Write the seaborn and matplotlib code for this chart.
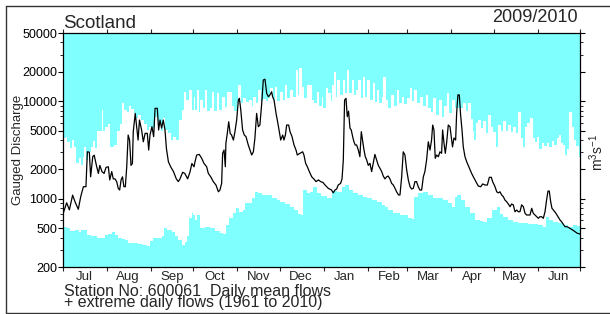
import numpy as np
import pandas as pd
import matplotlib
matplotlib.use("Agg")
import matplotlib.pyplot as plt
import matplotlib.dates as mdates
from matplotlib.ticker import LogLocator, NullFormatter
from matplotlib.lines import Line2D
import seaborn as sns

# ---------------- data (days since 1 Jul 2009, flows in m3/s) ----------------
start_date = "2009-07-01"
end_date = "2010-07-01"

mean_day = [0, 2.6, 4.5, 6.8, 8.5, 10.8, 12.5, 14.4, 16.2, 17.2, 18.6, 19.5, 21, 22, 23.8, 25, 26, 27.5, 29,
            30.4, 32, 33, 34.4, 35.5, 36.7, 37.9, 39, 40, 41, 42, 43, 44, 45, 46, 47, 48, 49, 49.6, 51, 52, 53,
            54, 55.5, 56.7, 58, 59.5, 60.5, 61.4, 62.8, 64, 65, 66.6, 67.5, 68.5, 69.6, 70.8, 72, 73, 74.4, 76,
            78, 80, 81.4, 82.6, 84.5, 86, 88, 89.6, 91, 92.5, 93.2, 94.4, 96.2, 97.9, 99.5, 101.4, 102.6, 104.3,
            106.1, 108, 109.7, 110.8, 112, 112.7, 113.7, 114.6, 115, 116, 117, 118, 119, 120.3, 121.4, 122.6,
            123.8, 124.5, 125.4, 126.8, 128, 129.2, 130.8, 132, 133.2, 134.4, 135.5, 136.7, 137.9, 139, 140.3,
            141.4, 142.6, 143.8, 145, 146.1, 147.3, 148, 149, 150.4, 151.3, 152.3, 153.7, 155.1, 156, 157,
            157.9, 159.3, 160.3, 161.7, 163.1, 164.5, 165.4, 167.3, 169.2, 170.1, 171.3, 172.5, 173.9, 175.6,
            177.2, 178.6, 180.3, 181.9, 183.5, 185, 187.3, 189.6, 190.8, 192, 193.2, 194.3, 196, 197, 197.9,
            198.8, 199.8, 200.7, 201.6, 202.6, 203.5, 204.5, 205.4, 206.3, 207.3, 208.5, 209.6, 210.6, 211.5,
            212.5, 213.4, 214.4, 215.5, 216.7, 217.9, 219, 220.2, 221.4, 222.6, 223.8, 225, 226.1, 227.3, 228.5,
            229.6, 230.8, 232, 233.2, 234.4, 235.5, 236.9, 237.9, 239.1, 240.2, 241.4, 242.6, 243.8, 245, 246.1,
            247.3, 248.5, 249.6, 250.8, 252, 253.2, 254.4, 255.5, 256.7, 257.9, 259.1, 260.2, 261, 261.9, 262.8,
            263.8, 265, 266.1, 267.3, 268, 269, 269.9, 270.8, 272, 273.2, 274.4, 275, 276, 277.2, 277.9, 278.8,
            279.8, 280.7, 281.7, 282.6, 283.8, 285, 286.1, 287.3, 288.5, 289.7, 290.9, 292, 293.2, 294.9, 296.3,
            297.9, 299.6, 301, 302.4, 303.3, 305, 306.2, 307.3, 308.5, 309.7, 310.9, 312, 313.2, 314.4, 315.6,
            316.7, 317.9, 319.1, 320.3, 321.4, 322.6, 323.8, 325, 326.2, 327.3, 328.5, 329.7, 330.9, 332, 333.2,
            334.4, 335.6, 336.7, 337.9, 339.1, 340.3, 341.4, 342.4, 343.3, 344.3, 345.2, 346.6, 348, 349.7,
            350.9, 352, 353.2, 354.4, 355.6, 356.7, 357.9, 359.8, 361.5, 363.1, 365]
mean_flow = [700, 910, 770, 1090, 930, 780, 1050, 1330, 1330, 3030, 3000, 1680, 2700, 2800, 2130, 1820, 2200, 1900,
             1820, 2100, 2130, 1560, 1900, 1600, 1600, 1500, 1280, 1230, 1560, 1680, 1330, 1330, 2130, 4500, 4000,
             2200, 2300, 4870, 7500, 5480, 4000, 6410, 5070, 3840, 4690, 4690, 3160, 4500, 5480, 4330, 8450, 8450,
             5070, 6410, 5300, 6410, 5070, 3290, 2400, 2130, 1900, 1600, 1500, 1600, 1870, 1820, 1600, 1870, 2300,
             2130, 2400, 2810, 2850, 2600, 2310, 2130, 1820, 1680, 1500, 1384, 1180, 1230, 1440, 2925, 3160, 2130,
             3700, 4690, 6160, 4690, 4500, 4000, 4870, 6410, 10280, 10700, 8450, 5070, 4500, 4330, 3560, 3160,
             2810, 3030, 4200, 7500, 5480, 5700, 9500, 16500, 16800, 12050, 11100, 11600, 12500, 11100, 10280,
             7500, 6410, 5300, 4000, 4500, 4000, 4500, 5700, 5700, 4870, 4330, 3560, 3160, 2810, 2925, 3030, 2810,
             2310, 2130, 1900, 1680, 1590, 1500, 1560, 1500, 1470, 1384, 1280, 1230, 1150, 1230, 1260, 1384, 1440,
             1600, 2500, 10280, 10700, 6950, 7900, 5300, 5070, 4330, 3840, 3560, 3560, 3160, 2700, 4870, 4000,
             3160, 2700, 2500, 2200, 2310, 1900, 2310, 2850, 2500, 2200, 2050, 1900, 1710, 1600, 1680, 1710, 1600,
             1440, 1384, 1280, 1180, 1094, 1094, 1680, 3030, 2810, 1990, 1560, 1330, 1260, 1280, 1500, 1500, 1330,
             1230, 1230, 1680, 1900, 2500, 3840, 3160, 4000, 5700, 5070, 2600, 2810, 2700, 3030, 2925, 5070, 3700,
             2925, 3700, 5700, 5480, 4000, 3400, 4200, 4000, 7500, 11600, 11600, 7250, 5070, 3400, 2700, 2400,
             2200, 1990, 1820, 1680, 1560, 1460, 1350, 1330, 1420, 1384, 1384, 1660, 1660, 1500, 1330, 1180, 1150,
             1180, 1094, 1050, 971, 934, 884, 830, 884, 867, 737, 767, 737, 737, 867, 830, 710, 682, 682, 682, 799,
             710, 682, 655, 631, 655, 655, 631, 737, 971, 1200, 1200, 934, 799, 755, 710, 646, 606, 582, 550, 518,
             518, 510, 498, 479, 460, 443, 436]

max_day = [0, 2, 3, 5, 6.5, 8, 9.5, 11, 12.5, 14, 15, 16.5, 18, 19.5, 21, 22.5, 24, 26, 27.5, 28.5, 30, 32, 33.5,
           36, 38, 40, 41.5, 43, 45, 46.5, 48, 50, 51.5, 53, 55, 57, 59, 61, 63, 65, 67, 69, 70.5, 72, 74, 76, 78,
           80, 82, 84, 85.5, 87, 89, 91, 92.5, 93.2, 94.4, 95.8, 96.7, 98.6, 100.3, 101.9, 103.8, 105, 106.6, 108.5,
           110.4, 112, 114.1, 116, 117.4, 119.1, 121, 122.6, 123.8, 125.4, 127.3, 129.2, 131.3, 133.2, 134.4, 136.3,
           137.9, 139.6, 141.4, 143.3, 145, 146.1, 148, 149.7, 151.3, 153.2, 155.1, 156.7, 158.4, 160.3, 162.2,
           164.5, 165.7, 166.9, 168.5, 170.1, 172, 173.9, 175.6, 177.2, 179.1, 181, 182.6, 183.6, 185.6, 187.3,
           188.9, 189.6, 191.3, 192.5, 193.6, 195.5, 197.9, 199.3, 200.7, 202.1, 203.8, 205.4, 206.8, 208.5, 210.1,
           212, 213.4, 214.8, 216.7, 218.6, 220.2, 221.4, 223.3, 225, 226.1, 227.8, 229.6, 231.5, 233.6, 235.5,
           237.4, 239.1, 240.7, 242.6, 245, 246.4, 247.8, 249.7, 252, 253.9, 256.2, 257.9, 259.5, 261.4, 263.3,
           265.7, 267.3, 269, 270.8, 272.7, 274.4, 276.5, 279.1, 282.6, 284.5, 286.1, 287.8, 289.2, 290.1, 291.6,
           293.2, 294.9, 296.7, 298.6, 300.3, 301.9, 303.8, 305.4, 307.3, 309, 310.9, 312.7, 314.4, 316, 317.9,
           319.8, 321.4, 323.1, 324.5, 326.2, 327.8, 329.7, 331.6, 333.2, 334.9, 336.3, 337.9, 339.6, 341.4, 343.3,
           345, 346.6, 348.5, 349.9, 351.3, 353.2, 354.6, 356, 357.5, 359.1, 360.7, 362.2, 364, 365]
max_flow = [4200, 4300, 3850, 3300, 4000, 3400, 2300, 2600, 2200, 2700, 3400, 2500, 3000, 3400, 3900, 3300, 5000,
            5000, 8100, 5000, 5500, 5900, 3400, 3600, 5000, 5900, 9500, 8100, 7800, 9000, 8400, 7500, 6700, 7200,
            6400, 5900, 5100, 5500, 5300, 6900, 6100, 5000, 6700, 5100, 4700, 4000, 4300, 4000, 6400, 8100, 12500,
            10300, 13000, 8100, 11000, 8100, 13000, 7800, 10300, 8500, 13000, 8000, 8500, 12500, 7900, 12000, 8200,
            11100, 8800, 12500, 12500, 9000, 8000, 9500, 14700, 9500, 10700, 9800, 10300, 9000, 11100, 9500, 13000,
            10000, 10500, 10000, 10700, 13500, 10300, 14100, 10000, 12500, 10300, 14700, 10700, 13000, 11100, 20800,
            11500, 21700, 14000, 10700, 14700, 14700, 10300, 9500, 12500, 9000, 11100, 8500, 13500, 12000, 10000,
            14700, 20000, 11000, 16500, 11500, 16500, 12000, 21000, 12000, 16500, 11500, 13000, 16500, 10700, 17800,
            11000, 16500, 10300, 15200, 9800, 13000, 9500, 11000, 17800, 10300, 8500, 11500, 9000, 13000, 9500,
            11100, 9300, 10700, 13500, 10000, 13000, 9500, 11100, 9000, 11500, 8500, 7800, 10700, 7200, 10300, 6900,
            9000, 12000, 7500, 10300, 8500, 8500, 9500, 8000, 9500, 6500, 5000, 4000, 6000, 6400, 5300, 6200, 4700,
            7200, 5500, 4800, 3400, 5700, 5000, 6300, 5000, 5700, 4800, 5500, 4700, 7800, 4200, 3400, 5500, 6000,
            6700, 4200, 3800, 4300, 3200, 3700, 3500, 3700, 3400, 3900, 3600, 4200, 4500, 3700, 3600, 2800, 3200,
            7800, 5500, 4000, 3500, 2700, 2700]

min_day = [0, 2.6, 5, 8.5, 11, 13, 16.7, 20, 23.8, 27.3, 29.6, 32, 34.4, 36.7, 39, 41.4, 43.8, 46, 49.6, 53, 56.7,
           59, 61.4, 63.8, 67.3, 69.6, 71.3, 73.6, 76.7, 79, 81.4, 83.8, 86, 87.8, 89.2, 90.8, 92, 93.2, 94.8, 96.7,
           100.3, 103.8, 107.3, 110.8, 113.2, 115, 117.4, 119.8, 122.1, 124.5, 126.8, 128.5, 130.8, 133.2, 135.6,
           137.9, 140.3, 143.8, 147.3, 150.9, 153.2, 156.7, 160.3, 163.1, 166.2, 167.8, 169.2, 172, 174.4, 176.3,
           179.1, 182, 186.1, 189.6, 193.2, 196.7, 199, 202.1, 204.9, 208.5, 211.5, 214.4, 217.9, 221.4, 225, 227.3,
           229.6, 233.2, 237.9, 241.4, 243.8, 246.1, 247.8, 250.8, 254.4, 257.9, 261.4, 265, 268.5, 272, 274.4,
           276.7, 278.4, 280.7, 283.8, 287.3, 290.9, 294.4, 296.7, 299.1, 302.6, 306.1, 308.5, 310.9, 314.4, 317.9,
           321.4, 325, 328.5, 332, 335.6, 338.6, 341, 343.3, 346.2, 349.7, 353.2, 356.7, 360.3, 362.6, 365]
min_flow = [518, 498, 470, 480, 460, 480, 430, 415, 400, 395, 425, 440, 460, 430, 400, 385, 375, 355, 350, 345, 335,
            325, 370, 400, 395, 420, 500, 480, 455, 420, 380, 340, 360, 420, 630, 710, 680, 606, 680, 498, 518, 498,
            470, 450, 440, 540, 630, 710, 800, 740, 770, 900, 900, 1010, 1180, 1150, 1100, 1094, 1010, 970, 934,
            880, 820, 767, 700, 682, 1230, 1150, 1180, 1330, 1150, 1080, 1010, 1200, 1180, 1330, 1380, 1230, 1150,
            1094, 1050, 1010, 971, 934, 870, 830, 767, 710, 682, 682, 631, 620, 1050, 1150, 1180, 1094, 1010, 1010,
            971, 900, 830, 1050, 1100, 971, 830, 710, 606, 590, 582, 631, 767, 830, 700, 655, 600, 582, 566, 560,
            550, 550, 540, 518, 655, 600, 582, 566, 540, 518, 540, 530, 518]

ytick_values = [200, 500, 1000, 2000, 5000, 10000, 20000, 50000]
ytick_labels = ["200", "500", "1000", "2000", "5000", "10000", "20000", "50000"]

title_left = "Scotland"
title_right = "2009/2010"
y_label = "Gauged Discharge"
unit_label = r"m$^{3}$s$^{-1}$"
note_lines = ["Station No: 600061  Daily mean flows",
              "+ extreme daily flows (1961 to 2010)"]

# ---------------- styling ----------------
sns.set_style("ticks")
plt.rcParams["font.family"] = ["Liberation Sans", "DejaVu Sans"]
plt.rcParams["mathtext.fontset"] = "custom"
plt.rcParams["mathtext.rm"] = "Liberation Sans"
plt.rcParams["mathtext.it"] = "Liberation Sans"

CYAN = "#80ffff"
W, H = 610, 314

t0 = pd.Timestamp(start_date)
def to_dates(days):
    return t0 + pd.to_timedelta(np.asarray(days, dtype=float), unit="D")

mean_dates = to_dates(mean_day)
max_dates = to_dates(max_day)
min_dates = to_dates(min_day)

fig = plt.figure(figsize=(W / 100, H / 100), dpi=100)
fig.patch.set_facecolor("white")
ax = fig.add_axes([63 / W, 1 - 267 / H, (580 - 63) / W, (267 - 33) / H])
ax.set_facecolor("white")

y_bottom, y_top = 200, 50000
ax.fill_between(max_dates, max_flow, y_top, step="post", color=CYAN, linewidth=0, zorder=1)
ax.fill_between(min_dates, y_bottom, min_flow, step="post", color=CYAN, linewidth=0, zorder=1)

df_mean = pd.DataFrame({"date": mean_dates, "flow": mean_flow})
sns.lineplot(data=df_mean, x="date", y="flow", ax=ax, color="black", linewidth=0.9,
             estimator=None, zorder=3)

ax.set_yscale("log")
ax.set_ylim(y_bottom, y_top)
ax.set_xlim(pd.Timestamp(start_date), pd.Timestamp(end_date))
ax.set_yticks(ytick_values, labels=ytick_labels)
ax.yaxis.set_minor_locator(LogLocator(base=10, subs=range(2, 10), numticks=20))
ax.yaxis.set_minor_formatter(NullFormatter())

ax.xaxis.set_major_locator(mdates.MonthLocator())
ax.xaxis.set_major_formatter(plt.NullFormatter())
ax.xaxis.set_minor_locator(mdates.MonthLocator(bymonthday=16))
ax.xaxis.set_minor_formatter(mdates.DateFormatter("%b"))

ax.set_xlabel("")
ax.set_ylabel("")

for s in ax.spines.values():
    s.set_color("black")
    s.set_linewidth(0.9)
    s.set_visible(True)

ax.tick_params(axis="y", which="major", direction="out", length=3.5, width=0.8,
               left=True, right=True, labelsize=9, pad=0.5, colors="black")
ax.tick_params(axis="y", which="minor", direction="out", length=2, width=0.7,
               left=True, right=True)
ax.tick_params(axis="x", which="major", direction="out", length=3, width=0.8,
               top=True, bottom=True)
ax.tick_params(axis="x", which="minor", length=0, labelsize=9.5, pad=3)

# texts
fig.text(63 / W, 1 - 28 / H, title_left, fontsize=13.5, ha="left", va="baseline")
fig.text(578 / W, 1 - 22 / H, title_right, fontsize=13, ha="right", va="baseline")
fig.text(18 / W, 1 - 150 / H, y_label, fontsize=9.5, rotation=90, ha="center", va="center")
fig.text(597 / W, 1 - 152 / H, unit_label, fontsize=10, rotation=90, ha="center", va="center")
fig.text(64 / W, 1 - 307.5 / H, "\n".join(note_lines), fontsize=11.5, ha="left",
         va="baseline", linespacing=0.68)

# outer frame
frame_kw = dict(color="#333333", linewidth=1.0, transform=fig.transFigure)
fig.add_artist(Line2D([5.5 / W, 5.5 / W], [1 - 5.5 / H, 1 - 312.5 / H], **frame_kw))
fig.add_artist(Line2D([5.5 / W, 1.0], [1 - 5.5 / H, 1 - 5.5 / H], **frame_kw))
fig.add_artist(Line2D([5.5 / W, 1.0], [1 - 312.5 / H, 1 - 312.5 / H], **frame_kw))

fig.savefig("out.png", dpi=100)
